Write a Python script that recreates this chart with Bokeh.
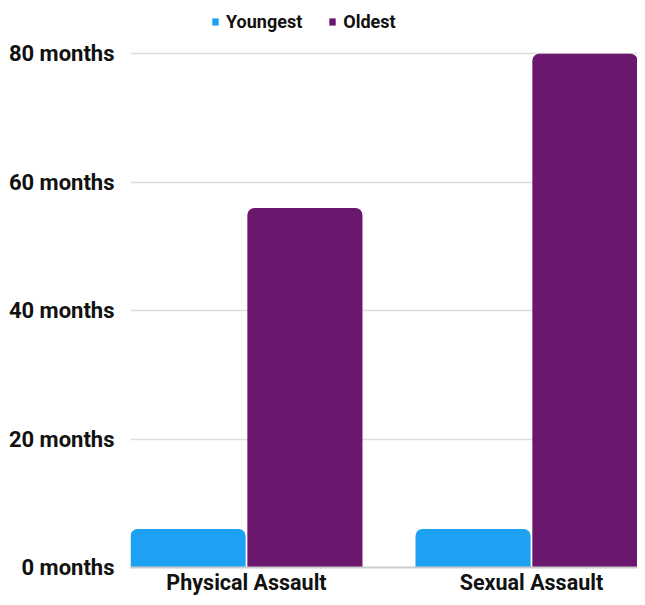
from bokeh.plotting import figure
from bokeh.models import ColumnDataSource, FixedTicker, Legend, LegendItem, Range1d
from bokeh.embed import file_html
from bokeh.resources import INLINE

categories = ["Physical Assault", "Sexual Assault"]
youngest = [6, 6]
oldest = [56, 80]
y_ticks = [0, 20, 40, 60, 80]
y_tick_labels = ["0 months", "20 months", "40 months", "60 months", "80 months"]

BLUE = "#1da1f2"
PURPLE = "#6c176e"
FONT = "Roboto"

centers = [i + 0.5 for i in range(len(categories))]
bar_w = 0.404
off = 0.205

src = ColumnDataSource(dict(
    xy=[c - off for c in centers],
    xo=[c + off for c in centers],
    youngest=youngest,
    oldest=oldest,
))

W, H = 637, 597
BL, BT, BB = 130, 0, 29
frame_h = H - BT - BB

p = figure(width=W, height=H, output_backend="svg", toolbar_location=None,
           x_range=Range1d(0.093, 1.872), y_range=Range1d(0, 88.3),
           min_border_left=BL, min_border_right=0, min_border_top=BT, min_border_bottom=BB)
p.outline_line_color = None

ry = p.vbar(x="xy", top="youngest", width=bar_w, source=src, fill_color=BLUE,
            line_color=None, border_radius=(7, 7, 0, 0))
ro = p.vbar(x="xo", top="oldest", width=bar_w, source=src, fill_color=PURPLE,
            line_color=None, border_radius=(7, 7, 0, 0))

p.xaxis.ticker = FixedTicker(ticks=centers)
p.xaxis.major_label_overrides = {c: n for c, n in zip(centers, categories)}
p.xaxis.major_tick_line_color = None
p.xaxis.minor_tick_line_color = None
p.xaxis.axis_line_color = "#cccccc"
p.xaxis.axis_line_width = 2
p.xaxis.major_label_text_font = FONT
p.xaxis.major_label_text_font_style = "bold"
p.xaxis.major_label_text_font_size = "21.5px"
p.xaxis.major_label_text_color = "#111111"
p.xaxis.major_label_standoff = -4
p.xgrid.grid_line_color = None

p.yaxis.ticker = FixedTicker(ticks=y_ticks)
p.yaxis.major_label_overrides = {t: l for t, l in zip(y_ticks, y_tick_labels)}
p.yaxis.axis_line_color = None
p.yaxis.major_tick_line_color = None
p.yaxis.minor_tick_line_color = None
p.yaxis.major_label_text_font = FONT
p.yaxis.major_label_text_font_style = "bold"
p.yaxis.major_label_text_font_size = "22px"
p.yaxis.major_label_text_color = "#111111"
p.yaxis.major_label_standoff = 10
p.ygrid.grid_line_color = "#dddddd"
p.ygrid.grid_line_width = 1.5

legend = Legend(items=[LegendItem(label="Youngest", renderers=[ry]),
                       LegendItem(label="Oldest", renderers=[ro])],
                orientation="horizontal", location=(81, frame_h - 33),
                border_line_color=None, background_fill_alpha=0,
                label_text_font=FONT, label_text_font_style="bold",
                label_text_font_size="18px", label_text_color="#111111",
                glyph_width=8, glyph_height=9, spacing=26, label_standoff=7,
                padding=0, margin=0)
p.add_layout(legend, "center")

open("out.html", "w").write(file_html(p, INLINE))
